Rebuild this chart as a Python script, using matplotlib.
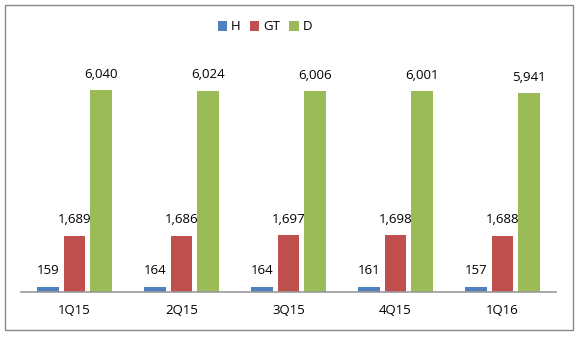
import matplotlib.pyplot as plt
import numpy as np
from matplotlib.patches import Rectangle

quarters = ["1Q15", "2Q15", "3Q15", "4Q15", "1Q16"]
h_vals = [159, 164, 164, 161, 157]
gt_vals = [1689, 1686, 1697, 1698, 1688]
d_vals = [6040, 6024, 6006, 6001, 5941]

series = [("H", h_vals, "#4F81BD"), ("GT", gt_vals, "#C0504D"), ("D", d_vals, "#9BBB59")]

plt.rcParams['font.family'] = ['Open Sans', 'DejaVu Sans']

fig = plt.figure(figsize=(5.8, 3.37), dpi=100)
ax = fig.add_axes([21/580, 1 - 292/337, 535/580, 242/337])

x = np.arange(len(quarters))
width = 0.205
step = 0.25
for i, (name, vals, color) in enumerate(series):
    pos = x + (i - 1) * step
    bars = ax.bar(pos, vals, width, color=color, label=name, zorder=2)
    for b, v in zip(bars, vals):
        ax.text(b.get_x() + b.get_width() / 2, v + 280, f"{v:,}",
                ha="center", va="bottom", fontsize=9.5)

ax.set_xlim(-0.5, len(quarters) - 0.5)
ax.set_ylim(0, 7236)
ax.set_xticks(x)
ax.set_xticklabels(quarters, fontsize=9.5)
ax.tick_params(axis="x", length=0, pad=9)
ax.set_yticks([])
for s in ["top", "right", "left"]:
    ax.spines[s].set_visible(False)
ax.spines["bottom"].set_color("#999999")
ax.spines["bottom"].set_linewidth(1.2)

fig.legend(loc="center", bbox_to_anchor=(265/580, 1 - 27/337), ncol=3, frameon=False,
           fontsize=9.5, handlelength=0.7, handleheight=0.7, handletextpad=0.3,
           columnspacing=0.7)

fig.patches.append(Rectangle((5/580, 1 - 330/337), 568/580, 325/337,
                             transform=fig.transFigure, fill=False,
                             edgecolor="#888888", linewidth=1))

fig.savefig("out.png", dpi=100)
